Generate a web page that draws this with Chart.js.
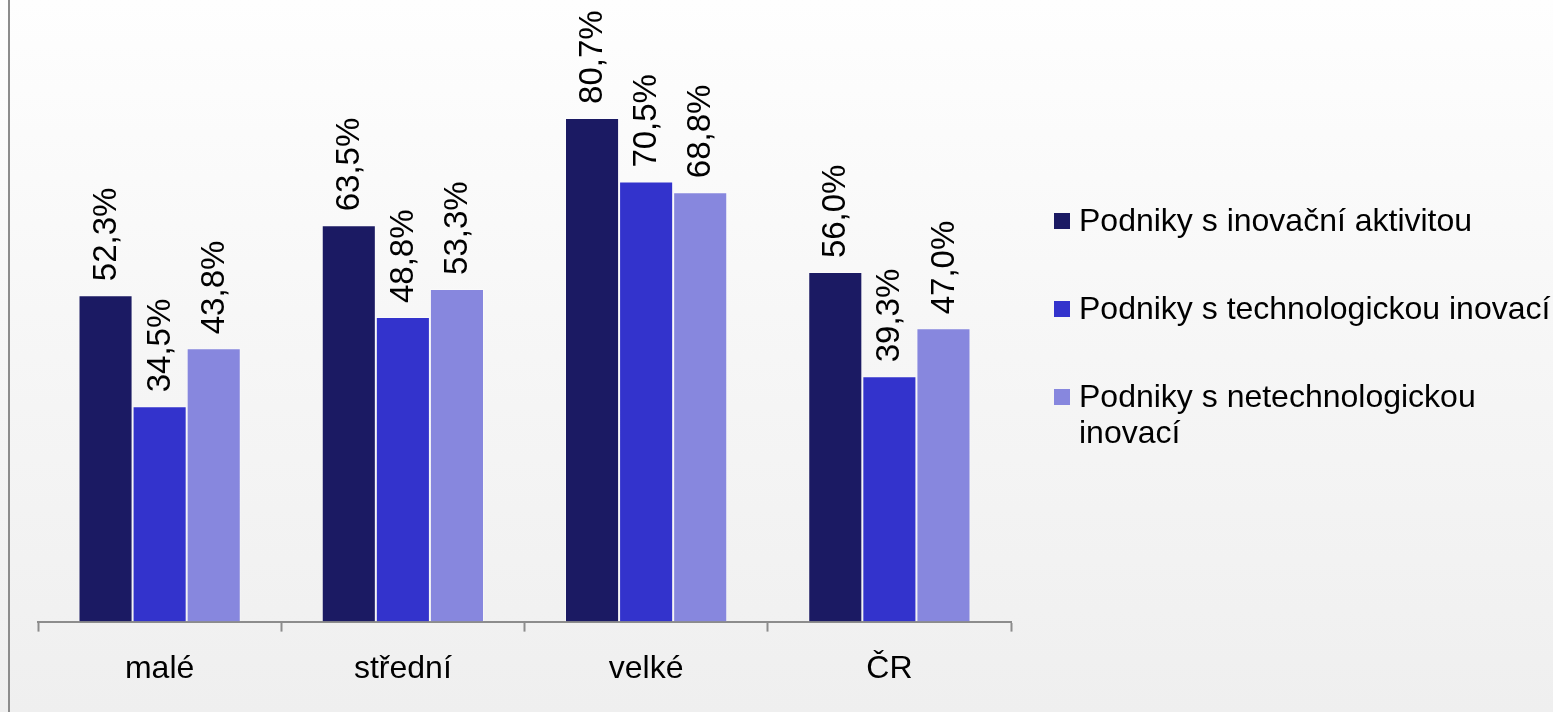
<!DOCTYPE html>
<html lang="cs">
<head>
<meta charset="utf-8">
<title>Podniky s inovací</title>
<script src="https://cdn.jsdelivr.net/npm/chart.js@4/dist/chart.umd.min.js"></script>
<style>
    html, body {
        margin: 0;
        padding: 0;
        width: 1553px;
        height: 712px;
        overflow: hidden;
        background: linear-gradient(to bottom, #fefefe 0%, #f6f6f6 50%, #efefef 100%);
        font-family: "Liberation Sans", Arial, sans-serif;
    }
    #obal {
        position: absolute;
        left: 0;
        top: 0;
        width: 1553px;
        height: 712px;
    }
    #ramecek {
        position: absolute;
        left: 8px;
        top: 0;
        width: 0;
        height: 712px;
        border-left: 2px solid #8c8c8c;
    }
    #legenda {
        position: absolute;
        left: 1054px;
        top: 202px;
        font-size: 32px;
        line-height: 36px;
        color: #000;
    }
    .polozka {
        display: flex;
        align-items: flex-start;
        margin-bottom: 52px;
    }
    .ctverec {
        width: 16px;
        height: 16px;
        margin-top: 11px;
        margin-right: 9px;
        flex: none;
    }
    .text {
        width: 480px;
    }
</style>
</head>
<body>
<div id="ramecek"></div>
<div id="obal"><canvas id="graf"></canvas></div>
<div id="legenda"></div>

<script>
'use strict';

// data z obrázku
const kategorie = ['malé', 'střední', 'velké', 'ČR'];
const nazvyRad = [
    'Podniky s inovační aktivitou',
    'Podniky s technologickou inovací',
    'Podniky s netechnologickou inovací'
];
const inovacniAktivita = [52.3, 63.5, 80.7, 56.0];
const technologicka = [34.5, 48.8, 70.5, 39.3];
const netechnologicka = [43.8, 53.3, 68.8, 47.0];

const barvy = ['#1b1a63', '#3333cc', '#8787de'];
const pismo = '"Liberation Sans", Arial, sans-serif';

//========================================================================================

function formatujProcenta(hodnota) {
    return hodnota.toFixed(1).replace('.', ',') + '%';
};

// popisky nad sloupci, otočené o 90°
const popiskySloupcu = {
    id: 'popiskySloupcu',
    afterDatasetsDraw(chart) {
        const ctx = chart.ctx;
        ctx.save();
        ctx.font = '33px ' + pismo;
        ctx.fillStyle = '#000';
        ctx.textAlign = 'left';
        ctx.textBaseline = 'middle';
        chart.data.datasets.forEach((dataset, i) => {
            const meta = chart.getDatasetMeta(i);
            meta.data.forEach((sloupec, j) => {
                ctx.save();
                ctx.translate(sloupec.x + 1, sloupec.y - 14);
                ctx.rotate(-Math.PI / 2);
                ctx.fillText(formatujProcenta(dataset.data[j]), 0, 0);
                ctx.restore();
            });
        });
        ctx.restore();
    }
};

//========================================================================================

const radyDat = [inovacniAktivita, technologicka, netechnologicka];

const graf = new Chart(document.getElementById('graf'), {
    type: 'bar',
    data: {
        labels: kategorie,
        datasets: radyDat.map((hodnoty, i) => ({
            label: nazvyRad[i],
            data: hodnoty,
            backgroundColor: barvy[i],
            borderColor: 'rgba(255,255,255,0.35)',
            borderWidth: 1,
            categoryPercentage: 0.667,
            barPercentage: 1
        }))
    },
    options: {
        responsive: true,
        maintainAspectRatio: false,
        animation: false,
        layout: {
            padding: { left: 38, right: 542, top: 0, bottom: 6 }
        },
        plugins: {
            legend: { display: false },
            tooltip: { enabled: false }
        },
        scales: {
            x: {
                grid: {
                    offset: true,
                    drawOnChartArea: false,
                    tickLength: 10,
                    tickColor: '#8c8c8c',
                    tickWidth: 2
                },
                border: { color: '#8c8c8c', width: 2 },
                ticks: {
                    color: '#000',
                    padding: 18,
                    font: { family: pismo, size: 32 }
                }
            },
            y: {
                display: false,
                min: 0,
                max: 99.6
            }
        }
    },
    plugins: [popiskySloupcu]
});

//========================================================================================

// legenda vpravo
const legenda = document.getElementById('legenda');
nazvyRad.forEach((nazev, i) => {
    const polozka = document.createElement('div');
    polozka.className = 'polozka';
    const ctverec = document.createElement('span');
    ctverec.className = 'ctverec';
    ctverec.style.background = barvy[i];
    const text = document.createElement('span');
    text.className = 'text';
    text.textContent = nazev;
    polozka.appendChild(ctverec);
    polozka.appendChild(text);
    legenda.appendChild(polozka);
});
</script>
</body>
</html>
